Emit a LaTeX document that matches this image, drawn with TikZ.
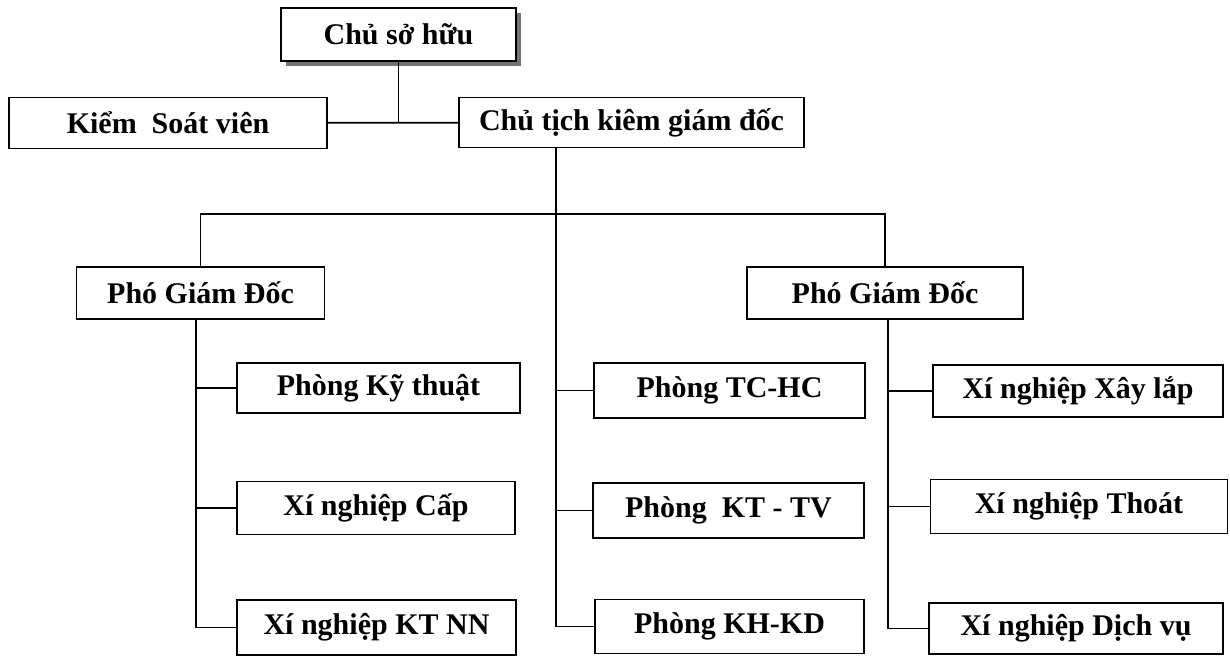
\documentclass[tikz,border=0pt]{standalone}
\usepackage{fontspec}
\setmainfont{Liberation Serif}
\usetikzlibrary{shadows}

\begin{document}
\begin{tikzpicture}[x=1pt, y=-1pt, line width=1.8pt,
  box/.style={draw, fill=white, inner sep=0pt, font=\bfseries\fontsize{30}{34}\selectfont}]

\useasboundingbox (0,0) rectangle (1230,656);

%Lãnh đạo
\node[box, minimum width=235pt, minimum height=53pt, drop shadow={shadow xshift=5pt, shadow yshift=-5pt, fill=black!55, opacity=1}] (owner) at (398.5,34.5) {Chủ sở hữu};
\node[box, minimum width=318pt, minimum height=51pt] (audit) at (168,123) {Kiểm\ \ Soát viên};
\node[box, minimum width=345pt, minimum height=50pt] (chair) at (631.5,122.5) {Chủ tịch kiêm giám đốc};
\draw (audit) -- (chair);
\draw (owner) -- (owner |- audit);

% Phó giám đốc
\coordinate (bus) at (556,214);
\node[box, minimum width=248pt, minimum height=52pt] (vpL) at (200.5,293) {Phó Giám Đốc};
\node[box, minimum width=276pt, minimum height=52pt] (vpR) at (885,293) {Phó Giám Đốc};
\draw (vpL.north) -- (vpL.north |- bus) -- (vpR.north |- bus) -- (vpR.north);

% Khối bên trái
\node[box, minimum width=283pt, minimum height=50pt] (tech) at (378.5,388) {Phòng Kỹ thuật};
\node[box, minimum width=278pt, minimum height=53pt] (cap) at (376,508) {Xí nghiệp Cấp};
\node[box, minimum width=279pt, minimum height=55pt] (ktnn) at (376.5,627.5) {Xí nghiệp KT NN};
\coordinate (trunkL) at (196,319);
\draw (trunkL) |- (ktnn.west);
\foreach \n in {tech, cap}
	\draw (trunkL |- \n.west) -- (\n.west);

% Các phòng
\node[box, minimum width=271pt, minimum height=55pt] (tchc) at (729.5,390.5) {Phòng TC-HC};
\node[box, minimum width=271pt, minimum height=55pt] (ktv) at (728.5,510.5) {Phòng\ \ KT - TV};
\node[box, minimum width=269pt, minimum height=54pt] (khkd) at (729.5,626.5) {Phòng KH-KD};
\draw (chair.south -| bus) |- (khkd.west);
\foreach \n in {tchc, ktv}
	\draw (bus |- \n.west) -- (\n.west);

% Khối bên phải
\node[box, minimum width=290pt, minimum height=52pt] (xaylap) at (1078,391) {Xí nghiệp Xây lắp};
\node[box, minimum width=297pt, minimum height=54pt] (thoat) at (1079,506.5) {Xí nghiệp Thoát};
\node[box, minimum width=294pt, minimum height=51pt] (dichvu) at (1076,628.5) {Xí nghiệp Dịch vụ};
\coordinate (trunkR) at (888,319);
\draw (trunkR) |- (dichvu.west);
\foreach \n in {xaylap, thoat}
	\draw (trunkR |- \n.west) -- (\n.west);

\end{tikzpicture}
\end{document}
